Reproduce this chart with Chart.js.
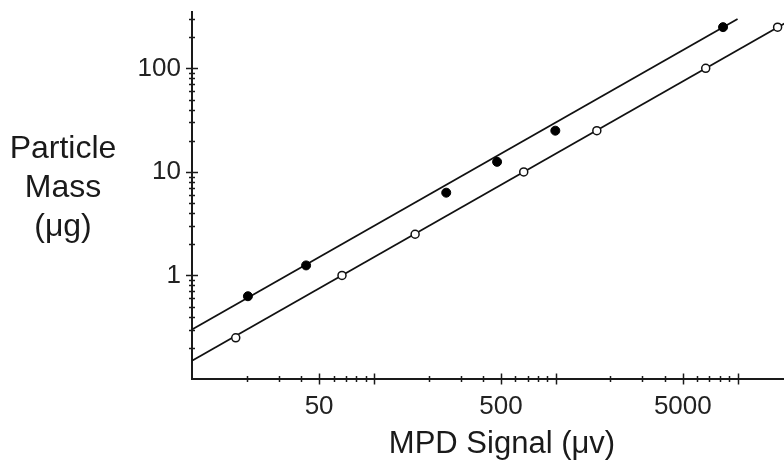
<!DOCTYPE html>
<html><head><meta charset="utf-8">
<script src="https://cdn.jsdelivr.net/npm/chart.js@4.4.1/dist/chart.umd.min.js"></script>
<style>html,body{margin:0;padding:0;background:#fff;overflow:hidden}</style>
</head><body>
<canvas id="c" width="784" height="464"></canvas>
<script>
// ---- data ----
const filledX = [20.3, 42.4, 250, 476, 995, 8320];
const filledY = [0.63, 1.25, 6.3, 12.5, 25, 250];
const openX = [17.4, 66.8, 168.6, 667, 1683, 6680, 16600];
const openY = [0.25, 1, 2.5, 10, 25, 100, 250];
const fitFilledX = [10, 10000];
const fitFilledY = [0.3, 300];
const fitOpenX = [10, 20000];
const fitOpenY = [0.15, 300];
const xTickLabels = [50, 500, 5000];
const yTickLabels = [1, 10, 100];
const xRange = [10, 18000];
const yRange = [0.1, 350];
const xTitle = 'MPD Signal (\u03bcv)';
const yTitle = ['Particle', 'Mass', '(\u03bcg)'];

const FONT = '"Liberation Sans", Arial, Helvetica, sans-serif';
const INK = '#1a1a1a';
const pts = (xs, ys) => xs.map((x, i) => ({x, y: ys[i]}));

function logTicks(min, max) {
  const out = [];
  for (let e = Math.floor(Math.log10(min)); e <= Math.ceil(Math.log10(max)); e++) {
    for (let m = 1; m <= 9; m++) {
      const v = +(m * Math.pow(10, e)).toPrecision(6);
      if (v > min * 1.0001 && v <= max) out.push({v, major: m === 1});
    }
  }
  return out;
}

const axisPlugin = {
  id: 'axisDecor',
  afterDraw(chart) {
    const ctx = chart.ctx;
    const xs = chart.scales.x, ys = chart.scales.y;
    const area = chart.chartArea;
    ctx.save();
    ctx.strokeStyle = INK;
    ctx.lineWidth = 1.5;
    logTicks(xRange[0], xRange[1]).forEach(t => {
      const big = t.major || xTickLabels.includes(t.v);
      const h = big ? 5.5 : 3;
      const px = Math.round(xs.getPixelForValue(t.v)) + 0.5;
      ctx.beginPath();
      ctx.moveTo(px, area.bottom - h);
      ctx.lineTo(px, area.bottom + h);
      ctx.stroke();
    });
    logTicks(yRange[0], yRange[1]).forEach(t => {
      const big = yTickLabels.includes(t.v);
      const py = Math.round(ys.getPixelForValue(t.v)) + 0.5;
      ctx.beginPath();
      ctx.moveTo(area.left - (big ? 6 : 3), py);
      ctx.lineTo(area.left + (big ? 6 : 3), py);
      ctx.stroke();
    });
    ctx.fillStyle = INK;
    ctx.textAlign = 'center';
    ctx.textBaseline = 'alphabetic';
    ctx.font = '31px ' + FONT;
    ctx.fillText(xTitle, 502, 453);
    ctx.font = '32px ' + FONT;
    const base = [158, 197, 236];
    yTitle.forEach((t, i) => ctx.fillText(t, 63, base[i]));
    ctx.restore();
  }
};

function noPad(s) { s.paddingTop = 0; s.paddingBottom = 0; s.paddingLeft = 0; s.paddingRight = 0; }

new Chart(document.getElementById('c'), {
  type: 'scatter',
  data: {
    datasets: [
      {data: pts(filledX, filledY), pointRadius: 4.5, pointHoverRadius: 4.5,
       backgroundColor: '#000', borderColor: '#000', borderWidth: 1, clip: false},
      {data: pts(openX, openY), pointRadius: 4, pointHoverRadius: 4,
       backgroundColor: '#fff', borderColor: '#111', borderWidth: 1.5, clip: false},
      {data: pts(fitFilledX, fitFilledY), showLine: true, pointRadius: 0,
       borderColor: '#111', borderWidth: 1.8, backgroundColor: '#111'},
      {data: pts(fitOpenX, fitOpenY), showLine: true, pointRadius: 0,
       borderColor: '#111', borderWidth: 1.8, backgroundColor: '#111'}
    ]
  },
  options: {
    responsive: false,
    animation: false,
    devicePixelRatio: 1,
    layout: {autoPadding: false, padding: {top: 12, right: 0, bottom: 0, left: 0}},
    plugins: {legend: {display: false}, tooltip: {enabled: false}, title: {display: false}},
    scales: {
      x: {
        type: 'logarithmic', position: 'bottom', min: xRange[0], max: xRange[1],
        grid: {display: false, drawTicks: false},
        border: {display: true, color: INK, width: 2},
        ticks: {font: {size: 26, family: FONT}, color: '#222', padding: 12,
                autoSkip: false, maxRotation: 0,
                callback: v => xTickLabels.includes(v) ? String(v) : ''},
        afterBuildTicks: s => { s.ticks = xTickLabels.map(v => ({value: v})); },
        afterFit: s => { s.height = 85; noPad(s); }
      },
      y: {
        type: 'logarithmic', position: 'left', min: yRange[0], max: yRange[1],
        grid: {display: false, drawTicks: false},
        border: {display: true, color: INK, width: 2},
        ticks: {font: {size: 26, family: FONT}, color: '#222', padding: 11,
                autoSkip: false,
                callback: v => yTickLabels.includes(v) ? String(v) : ''},
        afterBuildTicks: s => { s.ticks = yTickLabels.map(v => ({value: v})); },
        afterFit: s => { s.width = 192; noPad(s); }
      }
    }
  },
  plugins: [axisPlugin]
});
</script>
</body></html>
